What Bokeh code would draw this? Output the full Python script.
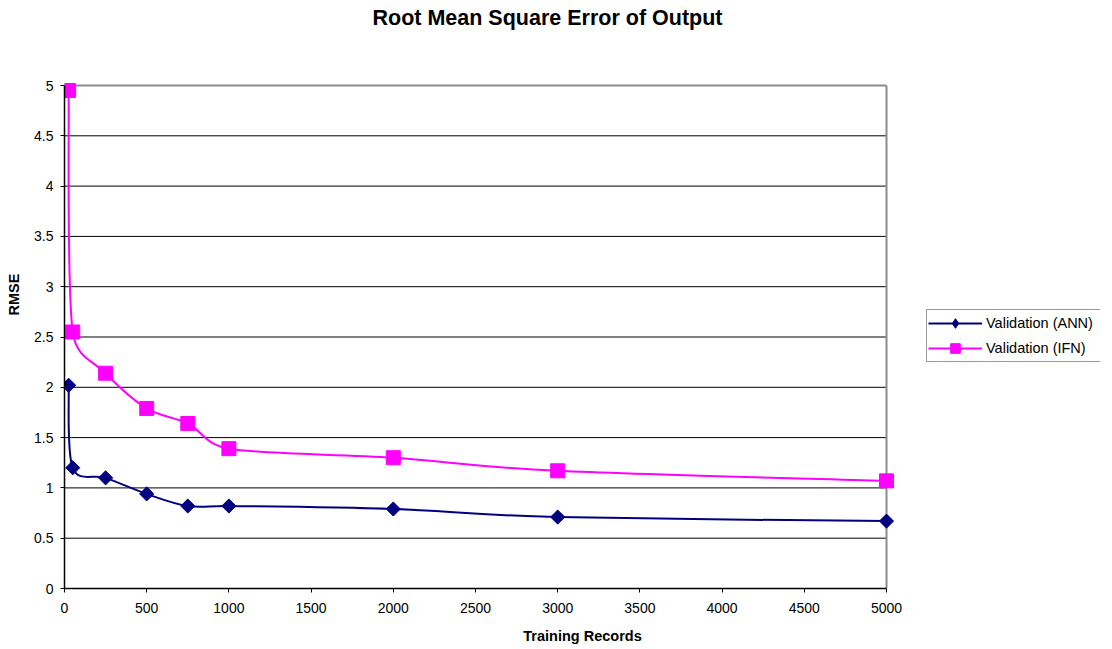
import math
from bokeh.plotting import figure
from bokeh.models import (Range1d, FixedTicker, NumeralTickFormatter, Legend,
                          LegendItem, Label)
from bokeh.embed import file_html
from bokeh.resources import INLINE

# ---------------- data ----------------
title_text = "Root Mean Square Error of Output"
x_label = "Training Records"
y_label = "RMSE"
series_names = ["Validation (ANN)", "Validation (IFN)"]
training_records = [25, 50, 250, 500, 750, 1000, 2000, 3000, 5000]
ann_rmse = [2.02, 1.20, 1.10, 0.94, 0.82, 0.82, 0.79, 0.71, 0.67]
ifn_rmse = [4.95, 2.55, 2.14, 1.79, 1.64, 1.39, 1.30, 1.17, 1.07]
x_ticks = [0, 500, 1000, 1500, 2000, 2500, 3000, 3500, 4000, 4500, 5000]
y_ticks = [0, 0.5, 1, 1.5, 2, 2.5, 3, 3.5, 4, 4.5, 5]

# ---------------- layout (pixels on the canvas) ----------------
FONT = "Liberation Sans"
W, H = 1100, 647
AX_LEFT, AX_RIGHT, AX_TOP, AX_BOTTOM = 64, 886, 85, 588   # the axis box
B_LEFT, B_BOTTOM = AX_LEFT, H - AX_BOTTOM                   # frame reaches right/top edge

x_min, x_max = x_ticks[0], x_ticks[-1]
y_min, y_max = y_ticks[0], y_ticks[-1]
PX_X = (AX_RIGHT - AX_LEFT) / (x_max - x_min)
PX_Y = (AX_BOTTOM - AX_TOP) / (y_max - y_min)
x_end = x_min + (W - AX_LEFT) / PX_X
y_end = y_min + AX_BOTTOM / PX_Y


def smooth_segments(xs, ys):
    """Excel-style smoothed line: Bezier segments through the data points,
    control arms computed in pixel space and capped at half a segment."""
    n = len(xs)
    P = [(x * PX_X, y * PX_Y) for x, y in zip(xs, ys)]

    def dist(a, b):
        return math.hypot(a[0] - b[0], a[1] - b[1])

    d = {k: [] for k in ("x0", "y0", "x1", "y1", "cx0", "cy0", "cx1", "cy1")}
    t = 1.0 / 6.0
    for i in range(n - 1):
        p0 = P[i - 1] if i > 0 else P[i]
        p1, p2 = P[i], P[i + 1]
        p3 = P[i + 2] if i + 2 < n else P[i + 1]
        d02, d13, d12 = dist(p0, p2), dist(p1, p3), dist(p1, p2)
        f1 = t if d02 * t < d12 / 2 else (d12 / 2 / d02 if d02 else 0)
        f2 = t if d13 * t < d12 / 2 else (d12 / 2 / d13 if d13 else 0)
        b1 = (p1[0] + (p2[0] - p0[0]) * f1, p1[1] + (p2[1] - p0[1]) * f1)
        b2 = (p2[0] - (p3[0] - p1[0]) * f2, p2[1] - (p3[1] - p1[1]) * f2)
        d["x0"].append(xs[i]); d["y0"].append(ys[i])
        d["x1"].append(xs[i + 1]); d["y1"].append(ys[i + 1])
        d["cx0"].append(b1[0] / PX_X); d["cy0"].append(b1[1] / PX_Y)
        d["cx1"].append(b2[0] / PX_X); d["cy1"].append(b2[1] / PX_Y)
    return d


p = figure(width=W, height=H, output_backend="svg", toolbar_location=None,
           x_range=Range1d(x_min, x_end), y_range=Range1d(y_min, y_end),
           min_border_left=B_LEFT, min_border_right=0,
           min_border_top=0, min_border_bottom=B_BOTTOM,
           background_fill_color="white", border_fill_color="white")
p.outline_line_color = None
p.xgrid.visible = False
p.ygrid.visible = False

# grid lines (black) and plot-area border (grey)
inner_y = y_ticks[1:-1]
p.segment(x0=[x_min] * len(inner_y), x1=[x_max] * len(inner_y), y0=inner_y, y1=inner_y,
          line_color="black", line_width=1)
p.segment(x0=[x_min, x_max], x1=[x_max, x_max], y0=[y_max, y_min], y1=[y_max, y_max],
          line_color="#8c8c8c", line_width=2)

# axes
for ax in (p.xaxis[0], p.yaxis[0]):
    ax.axis_line_color = "black"
    ax.axis_line_width = 1.5
    ax.major_tick_line_color = "black"
    ax.major_tick_in = 0
    ax.major_tick_out = 4
    ax.minor_tick_line_color = None
    ax.major_label_text_font = FONT
    ax.major_label_text_font_size = "14px"
    ax.major_label_text_color = "black"
    ax.axis_label_text_font = FONT
    ax.axis_label_text_font_size = "14.5px"
    ax.axis_label_text_font_style = "bold"
    ax.axis_label_text_color = "black"
    ax.formatter = NumeralTickFormatter(format="0.[0]")

p.xaxis[0].ticker = FixedTicker(ticks=x_ticks)
p.yaxis[0].ticker = FixedTicker(ticks=y_ticks)
p.xaxis[0].bounds = (x_min, x_max)
p.yaxis[0].bounds = (y_min, y_max)
p.xaxis[0].axis_label = x_label
p.yaxis[0].axis_label = y_label
p.xaxis[0].major_label_standoff = 10
p.yaxis[0].major_label_standoff = 7
p.xaxis[0].axis_label_standoff = 12
p.yaxis[0].axis_label_standoff = 9

# series
colors = ["#000080", "#FF00FF"]
items = []
for name, ys, color, size, angle, legend_marker in (
        (series_names[0], ann_rmse, colors[0], 10, 45, "diamond"),
        (series_names[1], ifn_rmse, colors[1], 14, 0, "square")):
    seg = smooth_segments(training_records, ys)
    r_line = p.bezier(source=seg, x0="x0", y0="y0", x1="x1", y1="y1",
                      cx0="cx0", cy0="cy0", cx1="cx1", cy1="cy1",
                      line_color=color, line_width=2)
    p.scatter(training_records, ys, marker="square", size=size,
              angle=angle, angle_units="deg",
              fill_color=color, line_color=color, line_width=1)
    # renderer used only for the legend swatch (hidden in the plot)
    r_key = p.scatter(training_records, ys, marker=legend_marker, size=size,
                      fill_color=color, line_color=color, line_width=1,
                      visible=False)
    items.append(LegendItem(label=name, renderers=[r_line, r_key]))

LEG_LEFT, LEG_BOTTOM = 926, 362
legend = Legend(items=items, location=(LEG_LEFT - AX_LEFT, AX_BOTTOM - LEG_BOTTOM),
                label_text_font=FONT, label_text_font_size="14.5px",
                label_text_color="black",
                glyph_width=54, glyph_height=24, label_height=24,
                label_width=116, label_standoff=4,
                padding=1, spacing=1, margin=0,
                border_line_color="#333333", border_line_width=1,
                background_fill_color="white", background_fill_alpha=1)
p.add_layout(legend, "center")

# chart title (centred at x=547, cap-middle at y=17.5 on the canvas)
p.add_layout(Label(x=547 - AX_LEFT, y=AX_BOTTOM - 17.5, x_units="screen", y_units="screen",
                   text=title_text, text_font=FONT, text_font_size="21.5px",
                   text_font_style="bold", text_align="center",
                   text_baseline="middle", text_color="black"))

open("out.html", "w").write(file_html(p, INLINE))
